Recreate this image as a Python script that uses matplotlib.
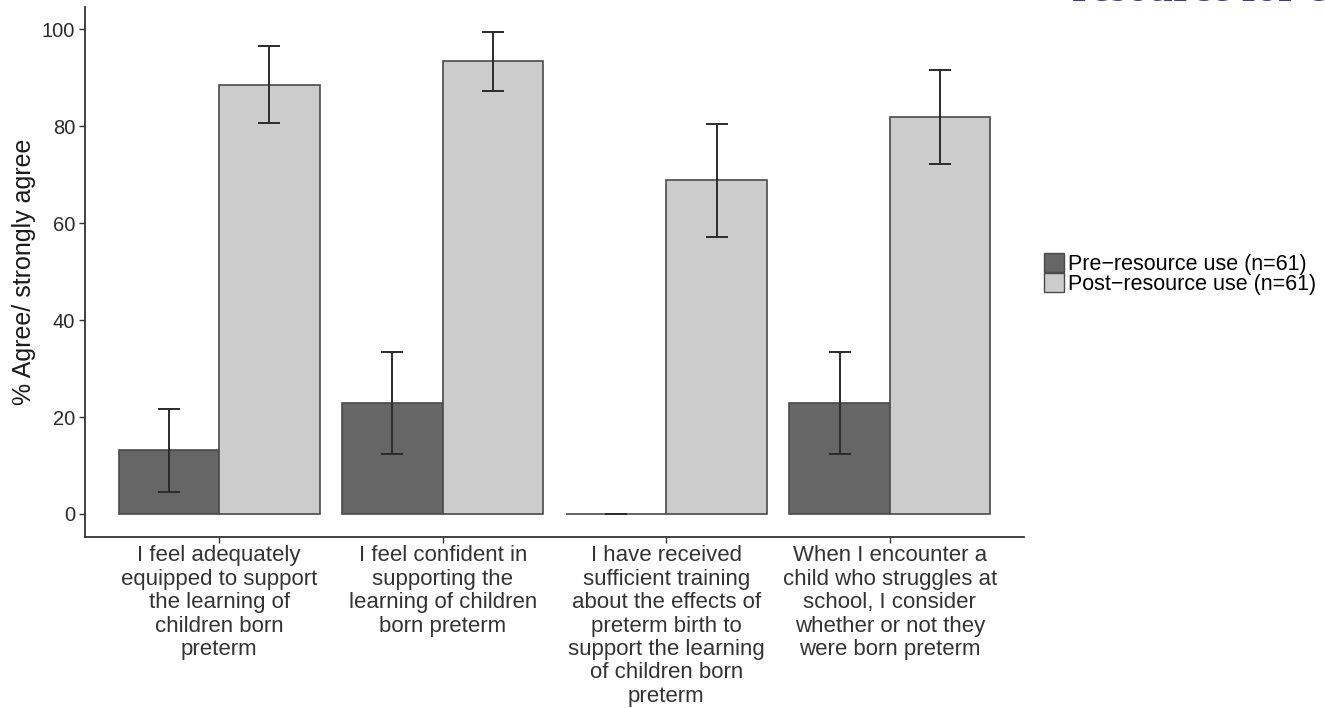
import matplotlib
matplotlib.use("Agg")
import matplotlib.pyplot as plt
from matplotlib.patches import Patch
import numpy as np

plt.rcParams["font.family"] = ["Liberation Sans", "DejaVu Sans"]

# survey items on the x axis
items = [
    "I feel adequately\nequipped to support\nthe learning of\nchildren born\npreterm",
    "I feel confident in\nsupporting the\nlearning of children\nborn preterm",
    "I have received\nsufficient training\nabout the effects of\npreterm birth to\nsupport the learning\nof children born\npreterm",
    "When I encounter a\nchild who struggles at\nschool, I consider\nwhether or not they\nwere born preterm",
]

# % agree / strongly agree, with 95% CI bounds
pre_pct = [13.1, 23.0, 0.0, 23.0]
pre_lo = [4.5, 12.4, 0.0, 12.4]
pre_hi = [21.7, 33.5, 0.0, 33.5]

post_pct = [88.5, 93.4, 68.9, 82.0]
post_lo = [80.6, 87.3, 57.2, 72.3]
post_hi = [96.6, 99.5, 80.4, 91.6]

labels = ["Pre\u2212resource use (n=61)", "Post\u2212resource use (n=61)"]
fills = ["#666666", "#cccccc"]
edge = "#4a4a4a"

fig = plt.figure(figsize=(13.25, 7.08), dpi=100)
ax = fig.add_axes([85 / 1325, (708 - 537) / 708, (1024 - 85) / 1325, (537 - 7) / 708])

x = np.arange(1, len(items) + 1)
w = 0.45

for off, vals, lo, hi, col in [(-w / 2, pre_pct, pre_lo, pre_hi, fills[0]),
                               (w / 2, post_pct, post_lo, post_hi, fills[1])]:
    vals = np.array(vals)
    ax.bar(x + off, vals, width=w, color=col, edgecolor=edge, linewidth=1.2, zorder=2)
    yerr = np.vstack([vals - np.array(lo), np.array(hi) - vals])
    ax.errorbar(x + off, vals, yerr=yerr, fmt="none", ecolor="#2b2b2b",
                elinewidth=1.4, capsize=8, capthick=1.4, zorder=3)

ax.set_xlim(0.4, 4.6)
ax.set_ylim(-4.75, 104.6)
ax.set_yticks([0, 20, 40, 60, 80, 100])
ax.set_xticks(x)
ax.set_xticklabels(items, fontsize=16, color="#222222", linespacing=1.15)
ax.tick_params(axis="y", labelsize=14.5, colors="#333333", length=4, width=1, pad=3)
ax.tick_params(axis="x", colors="#333333", length=4, width=1, pad=2)
for lab in ax.get_yticklabels():
    lab.set_color("#2a2a2a")
ax.set_ylabel("% Agree/ strongly agree", fontsize=18, color="#1a1a1a", labelpad=4)

for side in ["top", "right"]:
    ax.spines[side].set_visible(False)
for side in ["left", "bottom"]:
    ax.spines[side].set_color("#333333")
    ax.spines[side].set_linewidth(1.3)

handles = [Patch(facecolor=fills[i], edgecolor=edge, linewidth=1.0) for i in range(2)]
fig.legend(handles, labels, loc="upper left", bbox_to_anchor=(1044 / 1325, 1 - 253 / 708),
           frameon=False, fontsize=15.5, handlelength=0.95, handleheight=0.95,
           handletextpad=0.15, labelspacing=-0.08, borderpad=0, borderaxespad=0)

# running header from the page, cut by the top edge
fig.text(1072 / 1325, 1 - 1 / 708, "resource for e", fontsize=31.5, fontweight="bold",
         family=["Liberation Serif", "DejaVu Serif"], color="#3c3c8e", ha="left", va="baseline")

fig.savefig("out.png", dpi=100)
